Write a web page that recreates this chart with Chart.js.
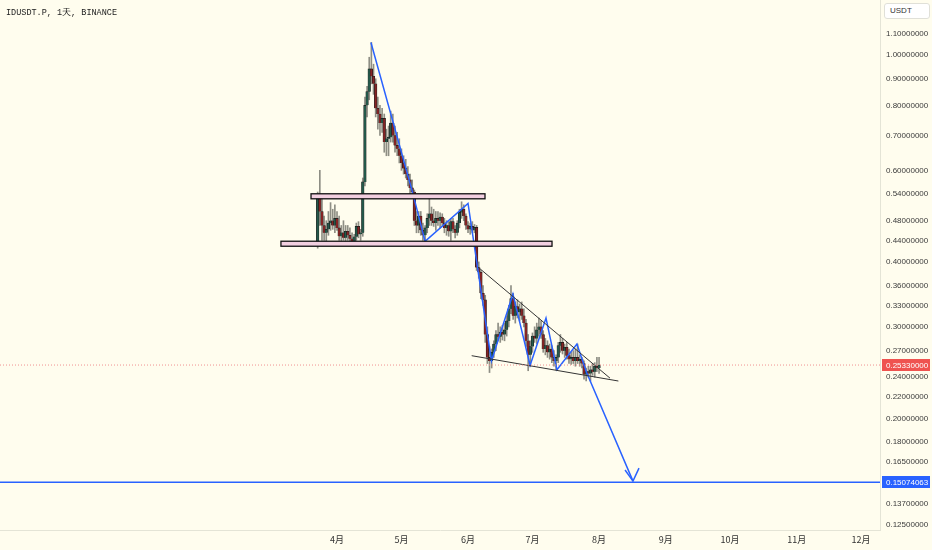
<!DOCTYPE html>
<html>
<head>
<meta charset="utf-8">
<script src="https://cdn.jsdelivr.net/npm/chart.js@4.4.1/dist/chart.umd.min.js"></script>
<style>
  body { margin: 0; background: #fffdee; }
  #wrap { position: relative; width: 932px; height: 550px; }
  #title { position: absolute; left: 6px; top: 7px; font: 8.5px "Liberation Mono", monospace; color: #222; }
  #unit { position: absolute; left: 884px; top: 3px; width: 39px; height: 14px; padding-left: 5px; border: 1px solid #e0e0d8; border-radius: 3px; background: #fff; font: 8px "Liberation Sans", sans-serif; color: #333; line-height: 14px; }
</style>
</head>
<body>
<div id="wrap">
  <canvas id="myChart" width="932" height="550"></canvas>
  <div id="title">IDUSDT.P, 1天, BINANCE</div>
  <div id="unit">USDT</div>
</div>
<script>
// daily candles, day 0 = 1 April
const firstDay = -9;
const opens = [
  .430, .535, .500, .470, .455, .462, .475, .480, .470, .485, .465, .448, .455, .445, .458, .450, .443, .438, .447, .468, .452, .455, .570,
  .800, .850, .940, .910, .880, .790, .770, .740, .755, .680, .690, .695, .740, .700, .670, .660, .640, .620, .605, .590, .575,
  .555, .545, .480, .470, .490, .460, .450, .465, .485, .495, .480, .475, .485, .480, .488, .475, .465, .470, .458, .478, .462, .455, .475, .498, .505, .490, .470, .462, .468, .460, .466, .390, .382, .348, .338, .290, .262,
  .258, .268, .278, .290, .287, .293, .290, .296, .308, .325, .340, .315, .328, .320, .325, .315, .305, .282, .265, .275, .288, .285, .296, .300, .290, .272, .276, .268, .272, .262, .258, .262, .276, .280, .270, .274, .264, .260, .262, .258, .262, .258, .260, .255, .243, .246, .244, .248, .246, .252, .250
];
const highs = [
  .545, .600, .530, .490, .480, .500, .520, .505, .515, .500, .490, .470, .480, .470, .470, .465, .455, .452, .475, .478, .462, .580, .830,
  .870, .990, 1.057, .960, .900, .830, .800, .790, .770, .720, .730, .780, .770, .730, .710, .690, .660, .640, .630, .610, .590,
  .575, .550, .500, .500, .500, .475, .470, .495, .530, .510, .505, .500, .500, .497, .495, .485, .480, .478, .485, .485, .470, .480, .505, .522, .515, .495, .478, .475, .478, .472, .470, .400, .385, .360, .345, .300, .275,
  .272, .282, .295, .305, .300, .302, .305, .315, .330, .360, .348, .335, .338, .332, .335, .325, .310, .290, .282, .292, .300, .305, .312, .308, .295, .285, .282, .278, .276, .270, .265, .280, .290, .285, .278, .280, .272, .268, .270, .272, .278, .265, .262, .258, .250, .252, .252, .255, .256, .262, .262
];
const lows = [
  .425, .470, .440, .440, .438, .450, .460, .462, .455, .460, .440, .435, .440, .436, .440, .437, .432, .430, .440, .445, .440, .448, .560,
  .760, .820, .880, .840, .760, .720, .700, .710, .650, .640, .640, .680, .680, .650, .640, .620, .600, .590, .580, .560, .540,
  .535, .470, .455, .455, .450, .440, .437, .455, .470, .470, .468, .460, .470, .465, .470, .455, .450, .448, .440, .455, .445, .450, .465, .485, .480, .462, .455, .452, .455, .455, .385, .372, .340, .330, .280, .255, .245,
  .250, .262, .270, .282, .280, .283, .282, .288, .300, .318, .310, .305, .312, .308, .310, .300, .275, .247, .252, .268, .280, .278, .288, .285, .268, .265, .262, .260, .256, .252, .248, .256, .268, .266, .262, .260, .255, .254, .255, .252, .255, .252, .250, .238, .236, .240, .236, .242, .240, .246, .244
];
const closes = [
  .535, .500, .470, .455, .462, .475, .480, .470, .485, .465, .448, .455, .445, .458, .450, .443, .438, .447, .468, .452, .455, .570, .800,
  .850, .940, .910, .880, .790, .770, .740, .755, .680, .690, .695, .740, .700, .670, .660, .640, .620, .605, .590, .575, .555,
  .545, .480, .470, .490, .460, .450, .465, .485, .495, .480, .475, .485, .480, .488, .475, .465, .470, .458, .478, .462, .455, .475, .498, .505, .490, .470, .462, .468, .460, .466, .390, .382, .348, .338, .290, .262, .258,
  .268, .278, .290, .287, .293, .290, .296, .308, .325, .340, .315, .328, .320, .325, .315, .305, .282, .265, .275, .288, .285, .296, .300, .290, .272, .276, .268, .272, .262, .258, .262, .276, .280, .270, .274, .264, .260, .262, .258, .262, .258, .260, .255, .243, .246, .244, .248, .246, .252, .250, .2533
];

const priceTicks = [1.1, 1.0, 0.9, 0.8, 0.7, 0.6, 0.54, 0.48, 0.44, 0.4, 0.36, 0.33, 0.3, 0.27, 0.24, 0.22, 0.2, 0.18, 0.165, 0.137, 0.125];
const monthDays = [0, 30, 61, 91, 122, 153, 183, 214, 244];
const monthLabels = ["4月", "5月", "6月", "7月", "8月", "9月", "10月", "11月", "12月"];

// drawings
const zigzagDays = [15.8, 35.4, 41.0, 61.0, 71.9, 81.9, 89.9, 97.3, 102.4, 111.7, 116.2, 137.8];
const zigzagPrices = [1.057, 0.54, 0.438, 0.518, 0.258, 0.347, 0.253, 0.312, 0.248, 0.278, 0.245, 0.1515];
const arrowDays = [134.1, 137.8, 140.6];
const arrowPrices = [0.1591, 0.1515, 0.1605];
const upperTrendDays = [65.6, 127.1];
const upperTrendPrices = [0.391, 0.239];
const lowerTrendDays = [62.7, 131.0];
const lowerTrendPrices = [0.264, 0.236];
const zoneBoxes = [
  [-12.1, 68.9, 0.5408, 0.5289],
  [-26.1, 100.1, 0.4383, 0.4287]
];
const lastPrice = 0.2533;
const targetPrice = 0.15074063;

const xMin = -156.9, xMax = 252.8;
const yMin = 0.1220, yMax = 1.2757;

let wicks = [], bodies = [], bodyColors = [];
for (let i = 0; i < opens.length; i++) {
  wicks.push({ x: firstDay + i, y: [lows[i], highs[i]] });
  bodies.push({ x: firstDay + i, y: [opens[i], closes[i]] });
  bodyColors.push(closes[i] >= opens[i] ? "#24594a" : "#852424");
}

function pts(days, prices) {
  return days.map(function (d, i) { return { x: d, y: prices[i] }; });
}

function lineSet(data, color, width, dash) {
  return {
    type: "line",
    data: data,
    borderColor: color,
    borderWidth: width,
    borderDash: dash || [],
    pointRadius: 0,
    fill: false,
    tension: 0,
    order: 0,
  };
}

function noPad(s) {
  s.paddingTop = 0;
  s.paddingBottom = 0;
  s.paddingLeft = 0;
  s.paddingRight = 0;
}

const overlay = {
  id: "overlay",
  afterDatasetsDraw(chart) {
    const c = chart.ctx, x = chart.scales.x, y = chart.scales.y;
    c.save();
    zoneBoxes.forEach(function (b) {
      const x0 = x.getPixelForValue(b[0]), x1 = x.getPixelForValue(b[1]);
      const y0 = y.getPixelForValue(b[2]), y1 = y.getPixelForValue(b[3]);
      c.fillStyle = "#f2cfe0";
      c.fillRect(x0, y0, x1 - x0, y1 - y0);
      c.strokeStyle = "#111";
      c.lineWidth = 1.3;
      c.strokeRect(x0, y0, x1 - x0, y1 - y0);
    });
    c.restore();
  },
  afterDraw(chart) {
    const c = chart.ctx, y = chart.scales.y;
    c.save();
    [[lastPrice, "#ef5350", "0.25330000"], [targetPrice, "#2962ff", "0.15074063"]].forEach(function (t) {
      const py = Math.round(y.getPixelForValue(t[0]));
      c.fillStyle = t[1];
      c.fillRect(882, py - 6, 48, 12);
      c.fillStyle = "#fff";
      c.font = "8px 'Liberation Sans'";
      c.textBaseline = "middle";
      c.fillText(t[2], 886, py + 0.5);
    });
    c.restore();
  },
};

const ctx = document.getElementById("myChart").getContext("2d");
const myChart = new Chart(ctx, {
  type: "bar",
  data: {
    datasets: [
      lineSet(pts([xMin, xMax], [lastPrice, lastPrice]), "#f09090", 1, [1, 2]),
      lineSet(pts([xMin, xMax], [targetPrice, targetPrice]), "#2962ff", 1.5),
      lineSet(pts(upperTrendDays, upperTrendPrices), "#333", 1),
      lineSet(pts(lowerTrendDays, lowerTrendPrices), "#333", 1),
      lineSet(pts(zigzagDays, zigzagPrices), "#2962ff", 1.5),
      lineSet(pts(arrowDays, arrowPrices), "#2962ff", 1.5),
      {
        data: bodies,
        backgroundColor: bodyColors,
        borderColor: "#1a1a1a",
        borderWidth: 0.6,
        barThickness: 2.6,
        minBarLength: 1,
        grouped: false,
        order: 1,
      },
      {
        data: wicks,
        backgroundColor: "#8e8e84",
        barThickness: 1,
        grouped: false,
        order: 2,
      },
    ],
  },
  options: {
    responsive: false,
    animation: false,
    devicePixelRatio: 1,
    layout: { padding: 0 },
    plugins: {
      legend: false,
      tooltip: { enabled: false },
    },
    scales: {
      x: {
        type: "linear",
        min: xMin,
        max: xMax,
        offset: false,
        grid: { display: false, drawTicks: false },
        border: { color: "#e4e4d6" },
        afterBuildTicks: function (s) {
          s.ticks = monthDays.map(function (v) { return { value: v }; });
        },
        afterFit: function (s) { s.height = 20; noPad(s); },
        ticks: {
          autoSkip: false,
          maxRotation: 0,
          padding: 4,
          color: "#333",
          font: { size: 9, family: "'Noto Sans CJK SC'" },
          callback: function (v) { return monthLabels[monthDays.indexOf(v)]; },
        },
      },
      y: {
        type: "logarithmic",
        position: "right",
        min: yMin,
        max: yMax,
        grid: { display: false, drawTicks: false },
        border: { color: "#e4e4d6" },
        afterBuildTicks: function (s) {
          s.ticks = priceTicks.map(function (v) { return { value: v }; });
        },
        afterFit: function (s) { s.width = 52; noPad(s); },
        ticks: {
          padding: 6,
          color: "#3a3a3a",
          font: { size: 8, family: "'Liberation Sans'" },
          callback: function (v) { return Number(v).toFixed(8); },
        },
      },
    },
  },
  plugins: [overlay],
});
</script>
</body>
</html>
